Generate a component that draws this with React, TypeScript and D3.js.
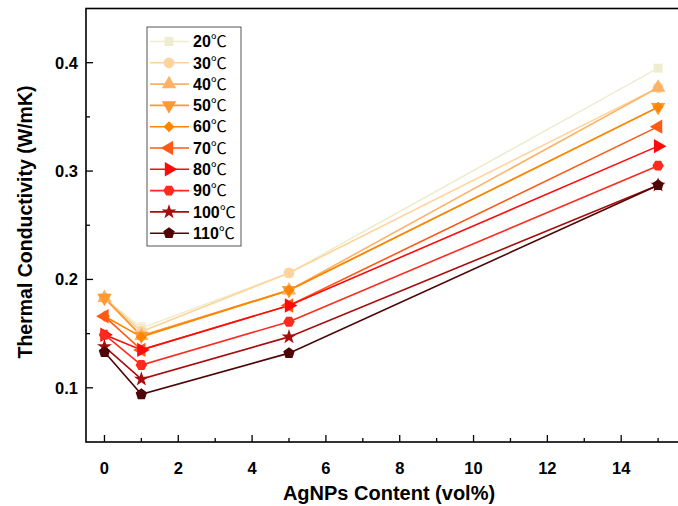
import React, { useEffect, useRef } from 'react';
import * as d3 from 'd3';

// AgNPs content (vol%)
const contents = [0, 1, 5, 15];
const seriesNames = ['20', '30', '40', '50', '60', '70', '80', '90', '100', '110'];
const t20 = [0.183, 0.155, 0.206, 0.395];
const t30 = [0.183, 0.152, 0.206, 0.377];
const t40 = [0.183, 0.148, 0.190, 0.377];
const t50 = [0.183, 0.148, 0.190, 0.359];
const t60 = [0.166, 0.147, 0.190, 0.359];
const t70 = [0.166, 0.135, 0.176, 0.341];
const t80 = [0.149, 0.135, 0.176, 0.323];
const t90 = [0.149, 0.121, 0.161, 0.305];
const t100 = [0.138, 0.108, 0.147, 0.287];
const t110 = [0.133, 0.094, 0.132, 0.287];
const err20 = [0, 0.005, 0, 0];
const xTicks = [0, 2, 4, 6, 8, 10, 12, 14];
const yTicks = [0.1, 0.2, 0.3, 0.4];

const colors = ['#EFEDCF', '#FFD49C', '#FFB266', '#FF9A33', '#FF8400', '#FF5A14', '#FF0A0A', '#FF2A1E', '#A80C0C', '#4E0606'];

const hexagon = {
  draw(ctx, size) {
    const r = Math.sqrt((2 * size) / (3 * Math.sqrt(3)));
    for (let i = 0; i < 6; i++) {
      const a = (Math.PI / 3) * i;
      const x = r * Math.cos(a), y = r * Math.sin(a);
      i === 0 ? ctx.moveTo(x, y) : ctx.lineTo(x, y);
    }
    ctx.closePath();
  }
};
const pentagon = {
  draw(ctx, size) {
    const r = Math.sqrt(size / 2.378);
    for (let i = 0; i < 5; i++) {
      const a = -Math.PI / 2 + (2 * Math.PI / 5) * i;
      const x = r * Math.cos(a), y = r * Math.sin(a);
      i === 0 ? ctx.moveTo(x, y) : ctx.lineTo(x, y);
    }
    ctx.closePath();
  }
};

// [symbol type, size, rotation]
const markers: [any, number, number][] = [
  [d3.symbolSquare, 80, 0],
  [d3.symbolCircle, 90, 0],
  [d3.symbolTriangle, 90, 0],
  [d3.symbolTriangle, 90, 180],
  [d3.symbolSquare, 60, 45],
  [d3.symbolTriangle, 90, -90],
  [d3.symbolTriangle, 90, 90],
  [hexagon, 85, 0],
  [d3.symbolStar, 70, 0],
  [pentagon, 85, 0]
];

const App = () => {
  const ref = useRef(null);

  useEffect(() => {
    const width = 678;
    const height = 506;
    const all = [t20, t30, t40, t50, t60, t70, t80, t90, t100, t110];
    const series = seriesNames.map((name, i) => ({ name, values: all[i], color: colors[i], marker: markers[i] }));

    const x = d3.scaleLinear().domain([-0.5, 16]).range([86, 695]);
    const y = d3.scaleLinear().domain([0.05, 0.45]).range([442, 8.5]);
    const font = '"Liberation Sans", Arial, sans-serif';

    const container = d3.select(ref.current);
    container.selectAll('*').remove();
    const svg = container.append('svg')
      .attr('width', width)
      .attr('height', height)
      .style('position', 'absolute')
      .style('left', 0)
      .style('top', 0)
      .style('background', '#fff');

    // frame
    svg.append('rect')
      .attr('x', x.range()[0]).attr('y', y.range()[1])
      .attr('width', x.range()[1] - x.range()[0])
      .attr('height', y.range()[0] - y.range()[1])
      .attr('fill', 'none').attr('stroke', '#000').attr('stroke-width', 1.6);

    // x ticks (inward)
    const g = svg.append('g');
    d3.range(0, 16, 1).forEach(v => {
      const major = v % 2 === 0;
      g.append('line')
        .attr('x1', x(v)).attr('x2', x(v))
        .attr('y1', y.range()[0]).attr('y2', y.range()[0] - (major ? 7 : 4))
        .attr('stroke', '#000').attr('stroke-width', 1.3);
    });
    xTicks.forEach(v => {
      g.append('text')
        .attr('x', x(v)).attr('y', 474)
        .attr('text-anchor', 'middle')
        .attr('font-family', font).attr('font-weight', 'bold').attr('font-size', 16.5)
        .text(v);
    });
    // y ticks
    d3.range(0.1, 0.45, 0.05).forEach((v, i) => {
      const major = i % 2 === 0;
      g.append('line')
        .attr('x1', x.range()[0]).attr('x2', x.range()[0] + (major ? 7 : 4))
        .attr('y1', y(v)).attr('y2', y(v))
        .attr('stroke', '#000').attr('stroke-width', 1.3);
    });
    yTicks.forEach(v => {
      g.append('text')
        .attr('x', 78).attr('y', y(v))
        .attr('dy', '0.36em')
        .attr('text-anchor', 'end')
        .attr('font-family', font).attr('font-weight', 'bold').attr('font-size', 16.5)
        .text(v.toFixed(1));
    });

    // axis titles
    svg.append('text')
      .attr('x', 389).attr('y', 500)
      .attr('text-anchor', 'middle')
      .attr('font-family', font).attr('font-weight', 'bold').attr('font-size', 20)
      .text('AgNPs Content (vol%)');
    svg.append('text')
      .attr('transform', 'translate(32,222) rotate(-90)')
      .attr('text-anchor', 'middle')
      .attr('font-family', font).attr('font-weight', 'bold').attr('font-size', 19.5)
      .text('Thermal Conductivity (W/mK)');

    const line = d3.line<number>()
      .x((d, i) => x(contents[i]))
      .y(d => y(d));

    const symbolPath = (m) => d3.symbol().type(m[0]).size(m[1])();

    // lines
    series.forEach(s => {
      svg.append('path')
        .attr('d', line(s.values))
        .attr('fill', 'none')
        .attr('stroke', s.color)
        .attr('stroke-width', 1.6);
    });

    // error bars (20℃)
    contents.forEach((c, i) => {
      if (!err20[i]) return;
      const eg = svg.append('g').attr('stroke', colors[0]).attr('stroke-width', 1.3);
      eg.append('line').attr('x1', x(c)).attr('x2', x(c)).attr('y1', y(t20[i] - err20[i])).attr('y2', y(t20[i] + err20[i]));
      [-err20[i], err20[i]].forEach(e => {
        eg.append('line').attr('x1', x(c) - 4).attr('x2', x(c) + 4).attr('y1', y(t20[i] + e)).attr('y2', y(t20[i] + e));
      });
    });

    // markers
    series.forEach(s => {
      svg.append('g').selectAll('path')
        .data(s.values)
        .enter()
        .append('path')
        .attr('d', symbolPath(s.marker))
        .attr('transform', (d, i) => `translate(${x(contents[i])},${y(d)}) rotate(${s.marker[2]})`)
        .attr('fill', s.color);
    });

    // legend
    const lg = svg.append('g');
    lg.append('rect')
      .attr('x', 147).attr('y', 27).attr('width', 94).attr('height', 219)
      .attr('fill', '#fff').attr('stroke', '#555').attr('stroke-width', 1);
    series.forEach((s, i) => {
      const ly = 41.5 + i * 21.3;
      lg.append('line')
        .attr('x1', 150).attr('x2', 189).attr('y1', ly).attr('y2', ly)
        .attr('stroke', s.color).attr('stroke-width', 1.6);
      lg.append('path')
        .attr('d', symbolPath(s.marker))
        .attr('transform', `translate(169,${ly}) rotate(${s.marker[2]})`)
        .attr('fill', s.color);
      const t = lg.append('text')
        .attr('x', 193).attr('y', ly).attr('dy', '0.36em')
        .attr('font-family', font).attr('font-weight', 'bold').attr('font-size', 16);
      t.append('tspan').text(s.name);
      t.append('tspan')
        .attr('font-family', '"Noto Sans CJK SC", sans-serif')
        .attr('font-weight', 'normal').attr('font-size', 16)
        .text('℃');
    });

    return () => {
      container.selectAll('*').remove();
    };
  }, []);

  return <div ref={ref}></div>;
};

export default App;
